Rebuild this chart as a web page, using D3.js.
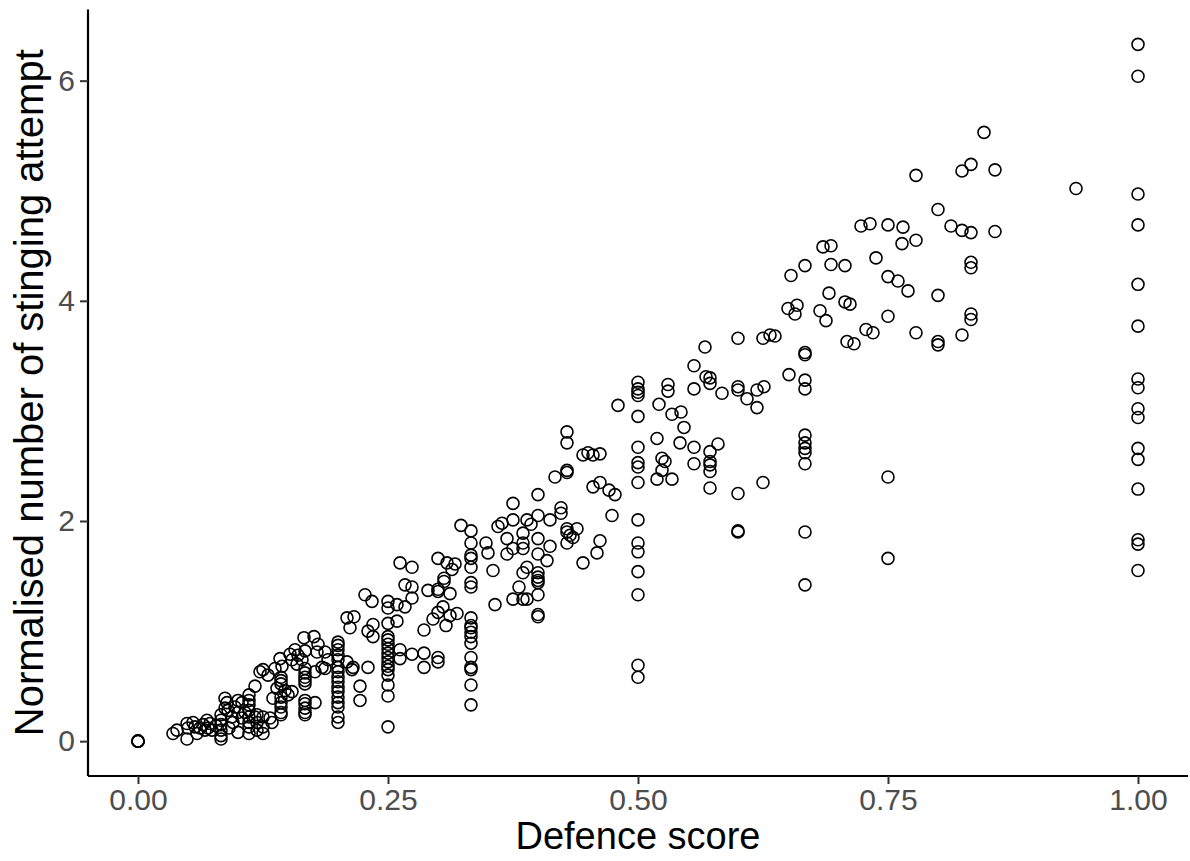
<!DOCTYPE html>
<html>
<meta charset="UTF-8" />
<script src="https://cdn.jsdelivr.net/npm/d3@7/dist/d3.min.js"></script>
<style>
*{margin:0; padding:0;}
body{background:#ffffff;}
text{font-family:"Liberation Sans", Arial, Helvetica, sans-serif;}
</style>
<body>
<div id="chart"></div>
<script>
// defence score vs normalised stinging attempts
var zeroPoints = [[0,0],[0,0],[0,0],[0,0]];

var lowPoints = [
	[0.035,0.07],[0.039,0.10],[0.049,0.02],[0.050,0.12],[0.049,0.16],[0.055,0.17],[0.057,0.13],[0.059,0.07],
	[0.062,0.12],[0.065,0.15],[0.069,0.19],[0.070,0.12],[0.072,0.16],[0.074,0.10],[0.067,0.10],[0.078,0.14],
	[0.083,0.24],[0.083,0.19],[0.083,0.15],[0.083,0.10],[0.083,0.05],[0.083,0.02],
	[0.087,0.39],[0.089,0.35],[0.090,0.28],[0.094,0.22],[0.087,0.30],[0.091,0.12],[0.095,0.17],
	[0.097,0.31],[0.100,0.37],[0.100,0.26],[0.104,0.35],[0.104,0.21],[0.107,0.26],[0.100,0.08],
	[0.111,0.37],[0.111,0.42],[0.111,0.33],[0.111,0.28],[0.111,0.22],[0.111,0.17],[0.111,0.13],[0.111,0.07],
	[0.117,0.50],[0.122,0.63],[0.119,0.24],[0.119,0.17],[0.119,0.10],[0.117,0.22]
];

var lowMidPoints = [
	[0.125,0.65],[0.130,0.60],[0.137,0.66],[0.144,0.68],[0.143,0.58],[0.143,0.55],[0.143,0.52],[0.139,0.48],
	[0.147,0.46],[0.154,0.45],[0.135,0.39],[0.143,0.40],[0.143,0.35],[0.143,0.31],[0.143,0.26],[0.143,0.24],
	[0.150,0.42],[0.132,0.21],[0.125,0.22],[0.125,0.13],[0.125,0.07],[0.134,0.17],
	[0.142,0.75],[0.154,0.74],[0.159,0.70],[0.164,0.74],[0.167,0.82],[0.157,0.83],[0.152,0.79],[0.160,0.78],
	[0.166,0.94],[0.176,0.95],[0.180,0.88],[0.179,0.81],[0.187,0.81],[0.190,0.74],[0.184,0.67],[0.187,0.66],[0.177,0.63],
	[0.167,0.66],[0.167,0.62],[0.167,0.58],[0.167,0.55],[0.167,0.52],[0.167,0.37],[0.167,0.34],[0.167,0.30],
	[0.167,0.26],[0.167,0.24],[0.177,0.35],
	[0.2,0.90],[0.2,0.87],[0.2,0.83],[0.2,0.78],[0.2,0.74],[0.2,0.67],[0.2,0.63],[0.2,0.58],[0.2,0.54],
	[0.2,0.49],[0.2,0.45],[0.2,0.40],[0.2,0.35],[0.2,0.31],[0.2,0.22],[0.2,0.17],
	[0.209,0.72],[0.215,0.67],[0.214,0.65],[0.230,0.67],[0.222,0.50],[0.222,0.37],
	[0.209,1.12],[0.216,1.13],[0.212,1.03],[0.235,1.06],[0.230,1.00],[0.235,0.95],[0.227,1.33],[0.234,1.27],
	[0.25,1.27],[0.25,1.21],[0.25,1.07],[0.25,0.95],[0.25,0.92],[0.25,0.88],[0.25,0.84],[0.25,0.80],
	[0.25,0.76],[0.25,0.72],[0.25,0.68],[0.25,0.65],[0.25,0.60],[0.25,0.51],[0.25,0.41],[0.25,0.13],
	[0.259,1.24],[0.259,1.09]
];

var midPoints = [
	[0.262,1.62],[0.274,1.58],[0.267,1.42],[0.274,1.40],[0.274,1.30],[0.267,1.22],
	[0.290,1.37],[0.300,1.66],[0.309,1.62],[0.314,1.56],[0.317,1.61],[0.306,1.48],[0.306,1.45],[0.300,1.38],
	[0.300,1.36],[0.312,1.34],[0.305,1.22],[0.300,1.17],[0.295,1.11],[0.312,1.14],[0.319,1.16],[0.308,1.05],
	[0.286,1.01],[0.262,0.83],[0.262,0.75],[0.274,0.79],[0.286,0.80],[0.286,0.67],[0.300,0.76],[0.300,0.72],
	[0.323,1.96],
	[0.333,1.91],[0.333,1.80],[0.333,1.69],[0.333,1.66],[0.333,1.58],[0.333,1.44],[0.333,1.40],[0.333,1.12],
	[0.333,1.05],[0.333,1.03],[0.333,0.99],[0.333,0.95],[0.333,0.89],[0.333,0.76],[0.333,0.67],[0.333,0.65],
	[0.333,0.51],[0.333,0.33],
	[0.348,1.80],[0.350,1.71],[0.355,1.55],[0.357,1.24],[0.360,1.95],[0.364,1.98],[0.369,1.84],[0.369,1.70],
	[0.375,1.75],[0.375,2.16],[0.375,2.01],[0.375,1.29],[0.381,1.40],[0.385,1.89],[0.385,1.80],[0.385,1.75],
	[0.385,1.53],[0.385,1.29],[0.389,2.01],[0.389,1.58],[0.389,1.29],[0.393,1.97],
	[0.4,2.24],[0.4,2.05],[0.4,1.84],[0.4,1.70],[0.4,1.53],[0.4,1.49],[0.4,1.46],[0.4,1.44],[0.4,1.33],
	[0.4,1.15],[0.4,1.13],
	[0.409,1.64],[0.412,2.01],[0.412,1.77],[0.417,2.40],[0.423,2.12],[0.423,2.07],
	[0.429,2.81],[0.429,2.71],[0.429,2.46],[0.429,2.44],[0.429,1.93],[0.429,1.90],[0.429,1.80],
	[0.432,1.87],[0.439,1.93],[0.435,1.85],
	[0.445,2.60],[0.450,2.62],[0.455,2.60],[0.462,2.61],[0.455,2.31],[0.462,2.35],[0.471,2.28],[0.477,2.24],
	[0.474,2.05],[0.462,1.82],[0.459,1.71],[0.445,1.62],[0.480,3.05]
];

var upperPoints = [
	[0.5,3.26],[0.5,3.20],[0.5,3.17],[0.5,3.14],[0.5,2.95],[0.5,2.67],[0.5,2.53],[0.5,2.49],[0.5,2.35],
	[0.5,2.01],[0.5,1.80],[0.5,1.72],[0.5,1.54],[0.5,1.33],[0.5,0.69],[0.5,0.58],
	[0.519,2.75],[0.521,3.06],[0.524,2.57],[0.527,2.54],[0.524,2.46],[0.519,2.38],[0.530,3.24],[0.530,3.18],
	[0.534,2.97],[0.534,2.38],[0.542,2.71],[0.543,2.99],[0.546,2.85],[0.556,3.41],[0.556,3.20],[0.556,2.67],
	[0.556,2.52],[0.567,3.58],[0.568,3.31],[0.572,3.30],[0.572,3.25],[0.572,2.63],[0.572,2.54],[0.572,2.51],
	[0.572,2.45],[0.572,2.30],[0.580,2.70],[0.584,3.16],
	[0.6,3.66],[0.6,3.22],[0.6,3.19],[0.6,2.25],[0.6,1.91],[0.6,1.90],
	[0.609,3.11],[0.619,3.19],[0.619,3.03],[0.626,3.22],[0.625,3.66],[0.625,2.35],[0.632,3.69],[0.637,3.68],
	[0.650,3.93],[0.651,3.33],[0.653,4.23],[0.657,3.88],[0.659,3.96],
	[0.667,4.32],[0.667,3.53],[0.667,3.51],[0.667,3.28],[0.667,3.20],[0.667,2.78],[0.667,2.71],[0.667,2.66],
	[0.667,2.62],[0.667,2.52],[0.667,1.90],[0.667,1.42],
	[0.682,3.91],[0.685,4.49],[0.688,3.82],[0.691,4.07],[0.693,4.50],[0.693,4.33]
];

var highPoints = [
	[0.707,4.32],[0.707,3.99],[0.712,3.97],[0.709,3.63],[0.716,3.61],[0.723,4.68],[0.728,3.74],[0.732,4.70],
	[0.735,3.71],[0.738,4.39],
	[0.75,4.69],[0.75,4.22],[0.75,3.86],[0.75,2.40],[0.75,1.66],
	[0.760,4.18],[0.764,4.52],[0.765,4.67],[0.770,4.09],[0.778,5.14],[0.778,4.55],[0.778,3.71],
	[0.8,4.83],[0.8,4.05],[0.8,3.63],[0.8,3.60],
	[0.813,4.68],[0.824,5.18],[0.824,4.64],[0.824,3.69],
	[0.833,5.24],[0.833,4.62],[0.833,4.35],[0.833,4.30],[0.833,3.88],[0.833,3.83],
	[0.846,5.53],[0.857,5.19],[0.857,4.63],[0.938,5.02],
	[1,6.33],[1,6.04],[1,4.97],[1,4.69],[1,4.15],[1,3.77],[1,3.29],[1,3.21],[1,3.02],[1,2.94],
	[1,2.66],[1,2.56],[1,2.29],[1,1.83],[1,1.79],[1,1.55]
];

var xTicks = [0, 0.25, 0.5, 0.75, 1];
var yTicks = [0, 2, 4, 6];
var xTitle = "Defence score";
var yTitle = "Normalised number of stinging attempt";

var allPoints = zeroPoints.concat(lowPoints, lowMidPoints, midPoints, upperPoints, highPoints);

var width = 1190;
var height = 861;
var panelLeft = 88, panelRight = 1188, panelTop = 9.5, panelBottom = 776;

var svg = d3.select("#chart")
.append("svg")
.attr("width", width)
.attr("height", height);

var x = d3.scaleLinear().domain([-0.05, 1.05]).range([panelLeft, panelRight]);
var y = d3.scaleLinear().domain([-0.3165, 6.6465]).range([panelBottom, panelTop]);

// points
svg.append("g")
.selectAll("circle")
.data(allPoints)
.join("circle")
.attr("cx", function(d){ return x(d[0]); })
.attr("cy", function(d){ return y(d[1]); })
.attr("r", 6)
.attr("fill", "none")
.attr("stroke", "#000")
.attr("stroke-width", 1.6);

// axes
var xAxis = svg.append("g")
.attr("transform", "translate(0," + panelBottom + ")")
.call(d3.axisBottom(x).tickValues(xTicks).tickFormat(d3.format(".2f")).tickSizeOuter(0).tickSize(8).tickPadding(5));

var yAxis = svg.append("g")
.attr("transform", "translate(" + panelLeft + ",0)")
.call(d3.axisLeft(y).tickValues(yTicks).tickFormat(d3.format("d")).tickSizeOuter(0).tickSize(8).tickPadding(5));

[xAxis, yAxis].forEach(function(a){
	a.select(".domain").attr("stroke", "#000").attr("stroke-width", 2.2);
	a.selectAll(".tick line").attr("stroke", "#333").attr("stroke-width", 2);
	a.selectAll(".tick text")
	.attr("fill", "#4d4d4d")
	.style("font-size", "30px")
	.style("font-family", "'Liberation Sans', Arial, sans-serif");
});
// axis lines span the full panel
xAxis.select(".domain").attr("d", "M" + panelLeft + ",0H" + panelRight);
yAxis.select(".domain").attr("d", "M0," + panelTop + "V" + panelBottom);

svg.append("text")
.attr("x", (panelLeft + panelRight) / 2)
.attr("y", 849)
.attr("text-anchor", "middle")
.style("font-size", "38px")
.attr("fill", "#000")
.text(xTitle);

svg.append("text")
.attr("transform", "translate(43," + ((panelTop + panelBottom) / 2) + ") rotate(-90)")
.attr("text-anchor", "middle")
.style("font-size", "40px")
.attr("fill", "#000")
.text(yTitle);
</script>
</body>
</html>
